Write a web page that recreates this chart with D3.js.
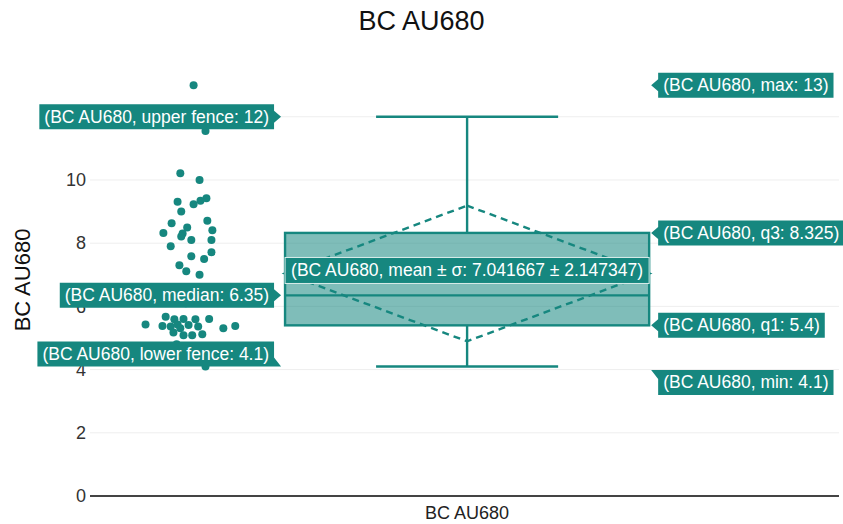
<!DOCTYPE html>
<html>
<head>
<meta charset="utf-8">
<script src="https://cdn.jsdelivr.net/npm/d3@7"></script>
<style>
  body { margin: 0; background: #fff; }
  text { font-family: "Liberation Sans", Arial, sans-serif; }
</style>
</head>
<body>
<div id="chart"></div>
<script>
const category = "BC AU680";

// observed points (values) and their jitter in [-1, 1]
const values = [13, 12, 11.55, 10.21, 10.0, 9.31, 9.42, 9.34, 9.23, 9.0, 8.63, 8.71, 8.32, 8.5,
  8.41, 8.31, 8.21, 8.1, 8.1, 7.9, 7.71, 7.59, 7.5, 7.3, 7.11, 7.0, 6.6, 6.35, 6.1,
  5.67, 5.59, 5.6, 5.59, 5.6, 5.43, 5.38, 5.36, 5.43, 5.31, 5.41, 5.36, 5.31, 5.38,
  5.09, 5.09, 5.12, 5.17, 4.8, 4.5, 4.1];
const jitter = [0.07, 0.2, 0.33, -0.22, 0.2, -0.28, 0.35, 0.22, 0.07, -0.2, -0.41, 0.37, -0.59, -0.07,
  0.48, -0.17, -0.2, 0.02, 0.46, -0.43, 0.46, 0.02, 0.3, -0.24, -0.09, 0.2, -0.3, 0.1, -0.1,
  -0.54, -0.35, -0.15, 0.11, 0.41, -0.98, -0.61, -0.43, -0.28, -0.22, -0.04, 0.17, 0.72, 0.98,
  -0.15, 0.04, 0.26, -0.37, -0.3, 0.12, 0.33];

const statNames = ["min", "lower fence", "q1", "median", "q3", "upper fence", "max"];
const statValues = [4.1, 4.1, 5.4, 6.35, 8.325, 12, 13];
const mean = 7.041667;
const sd = 2.147347;
const yTicks = [0, 2, 4, 6, 8, 10, 12];

const width = 843, height = 524;
const color = "#16877f";
const stat = (n) => statValues[statNames.indexOf(n)];

const svg = d3.select("#chart").append("svg")
  .attr("width", width).attr("height", height);

const x = d3.scaleLinear().domain([-0.725, 0.715]).range([90, 839]);
const y = d3.scaleLinear().domain([0, 13.67]).range([496, 64]);

const boxHalf = 0.35, capHalf = 0.175, pointPos = -1.52, jitterSpan = 0.088;

// grid
svg.append("g").selectAll("line").data(yTicks.filter(d => d !== 0)).join("line")
  .attr("x1", x.range()[0]).attr("x2", x.range()[1])
  .attr("y1", d => y(d)).attr("y2", d => y(d))
  .attr("stroke", "#eeeeee").attr("stroke-width", 1);

// y axis labels
const yAxis = svg.append("g").attr("transform", `translate(${x.range()[0] - 2},0)`)
  .call(d3.axisLeft(y).tickValues(yTicks).tickSize(0).tickPadding(2));
yAxis.select(".domain").remove();
yAxis.selectAll("text").attr("font-size", 18).attr("fill", "#333")
  .style("font-family", '"Liberation Sans", Arial, sans-serif');

// zero line
svg.append("line")
  .attr("x1", x.range()[0]).attr("x2", x.range()[1])
  .attr("y1", y(0)).attr("y2", y(0))
  .attr("stroke", "#444").attr("stroke-width", 2);

// titles
svg.append("text").attr("x", width / 2).attr("y", 30).attr("text-anchor", "middle")
  .attr("font-size", 27).attr("fill", "#111").text(category);
svg.append("text").attr("transform", `translate(30,${(y.range()[0] + y.range()[1]) / 2}) rotate(-90)`)
  .attr("text-anchor", "middle").attr("font-size", 22).attr("fill", "#111").text(category);
svg.append("text").attr("x", x(0)).attr("y", 519).attr("text-anchor", "middle")
  .attr("font-size", 18).attr("fill", "#222").text(category);

// box
const box = svg.append("g");
box.append("line").attr("x1", x(0)).attr("x2", x(0))
  .attr("y1", y(stat("upper fence"))).attr("y2", y(stat("q3")))
  .attr("stroke", color).attr("stroke-width", 2.4);
box.append("line").attr("x1", x(0)).attr("x2", x(0))
  .attr("y1", y(stat("q1"))).attr("y2", y(stat("lower fence")))
  .attr("stroke", color).attr("stroke-width", 2.4);
["upper fence", "lower fence"].forEach(n => {
  box.append("line").attr("x1", x(-capHalf)).attr("x2", x(capHalf))
    .attr("y1", y(stat(n))).attr("y2", y(stat(n)))
    .attr("stroke", color).attr("stroke-width", 2.4);
});
box.append("rect")
  .attr("x", x(-boxHalf)).attr("width", x(boxHalf) - x(-boxHalf))
  .attr("y", y(stat("q3"))).attr("height", y(stat("q1")) - y(stat("q3")))
  .attr("fill", color).attr("fill-opacity", 0.55)
  .attr("stroke", color).attr("stroke-width", 2.4);
box.append("line").attr("x1", x(-boxHalf)).attr("x2", x(boxHalf))
  .attr("y1", y(stat("median"))).attr("y2", y(stat("median")))
  .attr("stroke", color).attr("stroke-width", 2.4);
box.append("line").attr("x1", x(-boxHalf)).attr("x2", x(boxHalf))
  .attr("y1", y(mean)).attr("y2", y(mean))
  .attr("stroke", color).attr("stroke-width", 2.4).attr("stroke-dasharray", "7,5");
box.append("path")
  .attr("d", d3.line()([[x(0), y(mean + sd)], [x(boxHalf), y(mean)], [x(0), y(mean - sd)], [x(-boxHalf), y(mean)]]) + "Z")
  .attr("fill", "none").attr("stroke", color).attr("stroke-width", 2.4).attr("stroke-dasharray", "7,5");

// points
svg.append("g").selectAll("circle").data(values).join("circle")
  .attr("cx", (d, i) => x(pointPos * boxHalf + jitter[i] * jitterSpan))
  .attr("cy", d => y(d))
  .attr("r", 4)
  .attr("fill", color);

// hover labels
const labels = svg.append("g");
const fs = 17.5;

function hoverLabel(name, side, dy) {
  const v = stat(name);
  const ty = y(v);
  const tx = side === "left" ? x(-boxHalf) - 4 : x(boxHalf) + 2;
  const g = labels.append("g");
  const path = g.append("path").attr("fill", color);
  const t = g.append("text").attr("font-size", fs).attr("fill", "#fff")
    .text(`(${category}, ${name}: ${v})`);
  const tw = t.node().getComputedTextLength();
  const h = 25, w = tw + 10;
  const cy = ty + dy;
  const by0 = cy - h / 2, by1 = cy + h / 2;
  let bx0, bx1, d;
  if (side === "left") {
    bx1 = tx - 7; bx0 = bx1 - w;
    if (dy === 0) d = `M${tx},${ty}L${bx1},${ty - 6}V${by0}H${bx0}V${by1}H${bx1}V${ty + 6}Z`;
    else d = `M${bx0},${by0}H${bx1}V${by1 - 9}L${tx},${by1}H${bx0}Z`;
  } else {
    bx0 = tx + 7; bx1 = bx0 + w;
    if (dy === 0) d = `M${tx},${ty}L${bx0},${ty - 6}V${by0}H${bx1}V${by1}H${bx0}V${ty + 6}Z`;
    else d = `M${tx},${by0}H${bx1}V${by1}H${bx0}V${by0 + 9}Z`;
  }
  path.attr("d", d);
  t.attr("x", bx0 + 5).attr("y", cy + 6);
}

hoverLabel("upper fence", "left", 0);
hoverLabel("median", "left", 0);
hoverLabel("lower fence", "left", -12.5);
hoverLabel("max", "right", 0);
hoverLabel("q3", "right", 0);
hoverLabel("q1", "right", 0);
hoverLabel("min", "right", 16);

// mean ± sd label
const mg = labels.append("g");
const mrect = mg.append("rect").attr("fill", color).attr("stroke", "#d8ecea").attr("stroke-width", 1);
const mt = mg.append("text").attr("font-size", fs).attr("fill", "#fff").attr("text-anchor", "middle")
  .attr("x", x(0)).attr("y", y(mean) - 3 + 6)
  .text(`(${category}, mean ± σ: ${mean} ± ${sd})`);
const mw = mt.node().getComputedTextLength() + 12;
mrect.attr("x", x(0) - mw / 2).attr("width", mw)
  .attr("y", y(mean) - 3 - 13).attr("height", 26);
</script>
</body>
</html>
